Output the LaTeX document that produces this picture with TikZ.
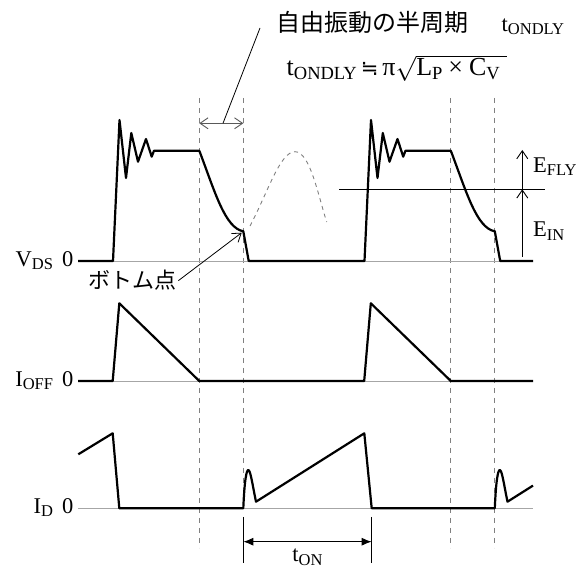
\documentclass[tikz,border=0pt]{standalone}
\usepackage{fontspec}
\setmainfont{Liberation Serif}
\newfontfamily\cjk{Noto Sans CJK JP}
\newfontfamily\symf{DejaVu Sans}
\usetikzlibrary{arrows.meta}
\newcommand\sbs[1]{\raisebox{-3.5pt}{\fontsize{16.5}{17}\selectfont #1}}
\newcommand\sbb[1]{\raisebox{-4pt}{\fontsize{18.5}{19}\selectfont #1}}
\def\per{251.5}
\tikzset{
  wave/.style={line width=2.2pt, line join=round},
  axisline/.style={gray!70, line width=0.8pt},
  guide/.style={gray, line width=0.9pt, dash pattern=on 5pt off 5pt},
  lbl/.style={inner sep=0pt, font=\fontsize{22.5}{25}\selectfont},
  biglbl/.style={inner sep=0pt, font=\fontsize{26}{28}\selectfont},
  openarrow/.style={line width=0.9pt, -{Straight Barb[length=8pt,width=11pt]}},
  dimarrow/.style={line width=1pt, {Latex[length=10pt,width=8pt]}-{Latex[length=10pt,width=8pt]}}
}
\begin{document}
\begin{tikzpicture}[x=1pt,y=-1pt]
\useasboundingbox (0,0) rectangle (582,569);

% guide lines
\coordinate (g1t) at (199.3,98);  \coordinate (g1b) at (199.3,548);
\coordinate (g2t) at (243.3,98);  \coordinate (g2b) at (243.3,508.3);
\coordinate (g3t) at (450.8,98);  \coordinate (g3b) at (450.8,548);
\coordinate (g4t) at (494.8,98);  \coordinate (g4b) at (494.8,548);
\draw[guide] (g1t) -- (g1b);
\draw[guide] (g2t) -- (g2b);
\draw[guide] (g3t) -- (g3b);
\draw[guide] (g4t) -- (g4b);

% axes
\coordinate (a1l) at (78,261);   \coordinate (a1r) at (533,261);
\coordinate (a2l) at (78,381);   \coordinate (a2r) at (533,381);
\coordinate (a3l) at (78,508.3); \coordinate (a3r) at (533,508.3);
\draw[axisline] (a1l) -- (a1r);
\draw[axisline] (a2l) -- (a2r);
\draw[axisline] (a3l) -- (a3r);

% V_DS waveform
\draw[wave] (78,261) -- (113,261) -- (119.5,120) -- (126,178) -- (131.3,133) -- (138,161.7)
  -- (146,139) -- (151.7,156.7) -- (154,150.7) -- (199.3,150.7)
  .. controls (215,192) and (225,228) .. (243.3,231.3) -- (248.7,261)
  -- (\per+113,261) -- (\per+119.5,120) -- (\per+126,178) -- (\per+131.3,133) -- (\per+138,161.7)
  -- (\per+146,139) -- (\per+151.7,156.7) -- (\per+154,150.7) -- (\per+199.3,150.7)
  .. controls (\per+215,192) and (\per+225,228) .. (\per+243.3,231.3) -- (\per+248.7,261) -- (533,261);

% free oscillation (dashed)
\draw[gray, line width=0.9pt, dash pattern=on 4pt off 4pt] (250,226) .. controls (268,192) and (280,151.7) .. (295,151.7)
  .. controls (310,151.7) and (318,195) .. (326.7,222);

% I_OFF waveform
\draw[wave] (78,381) -- (112.7,381) -- (119.3,303.3) -- (199.3,381)
  -- (\per+112.7,381) -- (\per+119.3,303.3) -- (\per+199.3,381) -- (533,381);

% I_D waveform
\draw[wave] (78.3,454.3) -- (112.7,433.3) -- (119.3,508.3) -- (243.3,508.3)
  .. controls (244.5,480) and (246.5,470) .. (248.3,470)
  .. controls (250.5,470) and (252.5,485) .. (256,501.7)
  -- (364.3,433.3) -- (371.7,508.3) -- (\per+243.3,508.3)
  .. controls (\per+244.5,480) and (\per+246.5,470) .. (\per+248.3,470)
  .. controls (\per+250.5,470) and (\per+252.5,485) .. (\per+256,501.7)
  -- (533,485.6);

% E_IN level line and arrows
\coordinate (ll) at (339.3,189.3); \coordinate (lr) at (545,189.3);
\draw[line width=1.4pt] (ll) -- (lr);
\coordinate (ebase) at (522.3,257); \coordinate (elev) at (522.3,189.3); \coordinate (etop) at (522.3,150);
\draw[openarrow] (ebase) -- (elev);
\draw[openarrow] (elev) -- (etop);
\node[lbl, anchor=base west] (efly) at (533,172.5) {E\sbs{FLY}};
\node[lbl, anchor=base west] (ein) at (533,237) {E\sbs{IN}};

% left labels
\node[lbl, anchor=base east] (vds) at (73.5,266.5) {V\sbs{DS}\hspace{9pt}0};
\node[lbl, anchor=base east] (ioff) at (73.5,386.5) {I\sbs{OFF}\hspace{9pt}0};
\node[lbl, anchor=base east] (idl) at (73.5,513.5) {I\sbs{D}\hspace{9pt}0};

% half period arrow and leader
\coordinate (ha) at (199.3,123.3); \coordinate (hb) at (243.3,123.3);
\draw[line width=0.9pt, black!65, {Straight Barb[length=8pt,width=11pt]}-{Straight Barb[length=8pt,width=11pt]}] (ha) -- (hb);
\coordinate (hm) at (223,123.3); \coordinate (ltop) at (260,28);
\draw[line width=0.8pt] (hm) -- (ltop);

% title texts
\node[inner sep=0pt, anchor=base west] (title) at (276.5,31.5)
  {{\cjk\fontsize{24}{26}\selectfont 自由振動の半周期}\hspace{33pt}{\fontsize{22.5}{25}\selectfont t\sbs{ONDLY}}};
\node[biglbl, anchor=base west] (formula) at (286.5,76)
  {t\sbb{ONDLY}\hspace{4pt}{\symf\fontsize{21}{22}\selectfont ≒}\hspace{4pt}π$\sqrt{\mbox{L\sbb{P}\hspace{6pt}×\hspace{6pt}C\sbb{V}\hspace{7pt}}}$};

% bottom point
\node[inner sep=0pt, anchor=base west, font=\cjk\fontsize{22}{24}\selectfont] (bottom) at (88,289) {ボトム点};
\coordinate (bpt) at (241.7,232.7);
\draw[openarrow, line width=0.8pt] ([xshift=2pt]bottom.east) -- (bpt);

% t_ON dimension
\coordinate (e1t) at (243.3,517); \coordinate (e1b) at (243.3,563);
\coordinate (e2t) at (371.7,517); \coordinate (e2b) at (371.7,563);
\draw[line width=0.9pt] (e1t) -- (e1b);
\draw[line width=0.9pt] (e2t) -- (e2b);
\coordinate (d1) at (243.3,541.7); \coordinate (d2) at (371.7,541.7);
\draw[dimarrow] (d1) -- (d2);
\node[lbl, anchor=base] (ton) at (307.5,562) {t\sbs{ON}};
\end{tikzpicture}
\end{document}
